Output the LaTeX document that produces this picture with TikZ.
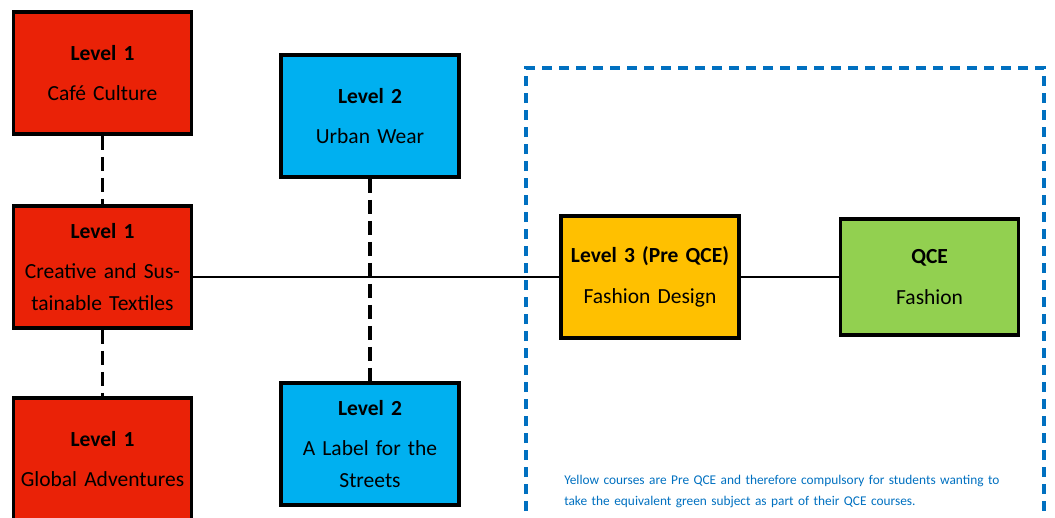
\documentclass[tikz,border=0pt]{standalone}
\usepackage{fontspec}
\setmainfont{Carlito}
\usetikzlibrary{positioning}

\definecolor{levelred}{RGB}{234,34,7}
\definecolor{levelblue}{RGB}{0,176,240}
\definecolor{preqce}{RGB}{255,192,0}
\definecolor{qcegreen}{RGB}{146,208,80}
\definecolor{noteblue}{RGB}{0,112,192}

\begin{document}
\begin{tikzpicture}[node distance=4.85cm,
        % styles
        course/.style = {
                rectangle, draw=black, line width=2.6pt,
                minimum width=4.45cm, minimum height=3.05cm,
                text width=4.3cm, align=center, inner sep=0pt,
                font=\fontsize{15.3}{22.8}\selectfont
            },
        level1box/.style = {course, fill=levelred},
        level2box/.style = {course, fill=levelblue},
        preqcebox/.style = {course, fill=preqce},
        qcebox/.style = {course, fill=qcegreen, minimum height=2.9cm},
        link/.style = {
                line width=1.8pt
            },
        pathway/.style = {
                line width=2.5pt, dash pattern=on 0.35cm off 0.175cm
            },
        qcezone/.style = {
                draw=noteblue, line width=2.6pt, dash pattern=on 0.25cm off 0.175cm
            }]

    \useasboundingbox (0,0) rectangle (26.375,-12.925);

    % qce area
    \draw [qcezone] (13.15,-13.2) |- (26.1,-1.7) -- (26.1,-13.2);

    % level 1
    \node (cafe) [level1box] at (2.5625,-1.825) {\textbf{Level 1}\\[6pt]Café Culture};
    \node (textiles) [level1box, below of=cafe] {\textbf{Level 1}\\[6pt]Creative and Sus-\\tainable Textiles};
    \node (global) [level1box, below of=textiles, yshift=0.05cm] {\textbf{Level 1}\\[6pt]Global Adventures};

    % level 2
    \node (urban) [level2box] at (9.25,-2.9) {\textbf{Level 2}\\[6pt]Urban Wear};
    \node (streets) [level2box, below of=urban, yshift=-3.35cm] {\textbf{Level 2}\\[6pt]A Label for the\\Streets};

    % level 3 and qce
    \node (design) [preqcebox] at (16.25,-6.925) {\textbf{Level 3 (Pre QCE)}\\[6pt]Fashion Design};
    \node (fashion) [qcebox, right of=design, xshift=2.14cm] {\textbf{QCE}\\[6pt]Fashion};

    \node (note) [anchor=north west, text width=12cm, inner sep=0pt, text=noteblue,
        font=\fontsize{9.5}{15}\selectfont] at (14.1,-11.88)
        {Yellow courses are Pre QCE and therefore compulsory for students wanting to\\
         take the equivalent green subject as part of their QCE courses.};

    % lines
    \draw [pathway] (cafe) -- (textiles);
    \draw [pathway] (textiles) -- (global);
    \draw [pathway] (urban) -- (streets);
    \draw [link] (textiles.east |- design.west) -- (design.west);
    \draw [link] (design) -- (fashion);

\end{tikzpicture}
\end{document}
